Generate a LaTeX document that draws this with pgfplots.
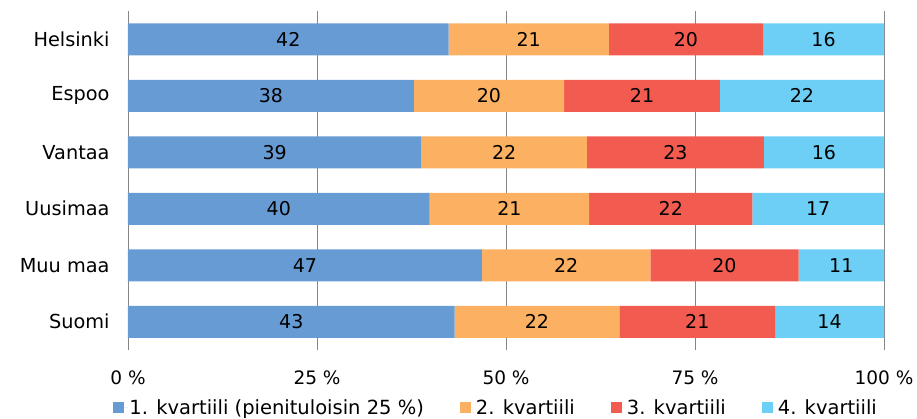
\documentclass[border=0pt]{standalone}
\usepackage{fontspec}
\setmainfont{DejaVu Sans}
\usepackage{pgfplots}
\usepackage{pgfplotstable}
\pgfplotsset{compat=1.18}
\definecolor{q1}{RGB}{103,155,211}
\definecolor{q2}{RGB}{251,176,98}
\definecolor{q3}{RGB}{241,91,80}
\definecolor{q4}{RGB}{109,207,245}
\definecolor{gridc}{RGB}{134,134,134}
\pgfplotstableread{
y q1 l1 q2 l2 q3 l3 q4 l4
0 42.4 42 21.2 21 20.4 20 16.0 16
1 37.8 38 19.9 20 20.6 21 21.7 22
2 38.8 39 21.9 22 23.4 23 15.9 16
3 39.9 40 21.1 21 21.6 22 17.4 17
4 46.8 47 22.3 22 19.6 20 11.3 11
5 43.2 43 21.8 22 20.6 21 14.4 14
}\data
\pgfplotstablecreatecol[expr={\thisrow{q1}/2}]{c1}\data
\pgfplotstablecreatecol[expr={\thisrow{q1}+\thisrow{q2}/2}]{c2}\data
\pgfplotstablecreatecol[expr={\thisrow{q1}+\thisrow{q2}+\thisrow{q3}/2}]{c3}\data
\pgfplotstablecreatecol[expr={\thisrow{q1}+\thisrow{q2}+\thisrow{q3}+\thisrow{q4}/2}]{c4}\data
\pgfplotsset{
  common/.style={
    at={(0,0)},
    scale only axis,
    width=756bp, height=339bp,
    xmin=0, xmax=100,
    ymin=-0.5, ymax=5.5,
    y dir=reverse,
  }
}
\begin{document}
\begin{tikzpicture}
\begin{axis}[
  common,
  xbar stacked,
  bar width=32bp,
  ytick={0,1,2,3,4,5},
  yticklabels={Helsinki,Espoo,Vantaa,Uusimaa,Muu maa,Suomi},
  xtick={0,25,50,75,100},
  xticklabels={0 \%,25 \%,50 \%,75 \%,100 \%},
  axis line style={draw=none},
  major tick length=0pt,
  xmajorgrids,
  grid style={gridc, line width=0.9bp},
  yticklabel style={font=\fontsize{19.3bp}{22bp}\selectfont, xshift=-15bp},
  xticklabel style={font=\fontsize{18.5bp}{21bp}\selectfont, yshift=-17bp},
  legend columns=4,
  legend style={at={(0.487,-0.171)}, anchor=center, draw=none, fill=none,
    font=\fontsize{19.5bp}{22bp}\selectfont,
    /tikz/every even column/.append style={column sep=34bp},
    inner sep=0pt, nodes={inner sep=2bp}},
  legend image code/.code={\fill[#1] (0bp,-5.5bp) rectangle (11bp,5.5bp); \path (0bp,0bp) -- (14bp,0bp);},
]
\addplot[fill=q1, draw=none] table[x=q1, y=y] \data;
\addplot[fill=q2, draw=none] table[x=q2, y=y] \data;
\addplot[fill=q3, draw=none] table[x=q3, y=y] \data;
\addplot[fill=q4, draw=none] table[x=q4, y=y] \data;
\legend{1. kvartiili (pienituloisin 25 \%),2. kvartiili,3. kvartiili,4. kvartiili}
\end{axis}
\begin{axis}[
  common,
  hide axis,
  point meta=explicit symbolic,
  nodes near coords,
  every node near coord/.style={anchor=center, font=\fontsize{19bp}{22bp}\selectfont, text=black},
]
\addplot[draw=none, mark=none] table[x=c1, y=y, meta=l1] \data;
\addplot[draw=none, mark=none] table[x=c2, y=y, meta=l2] \data;
\addplot[draw=none, mark=none] table[x=c3, y=y, meta=l3] \data;
\addplot[draw=none, mark=none] table[x=c4, y=y, meta=l4] \data;
\end{axis}
\pgfresetboundingbox
\path (-128bp,-69bp) rectangle (789bp,350bp);
\end{tikzpicture}
\end{document}
